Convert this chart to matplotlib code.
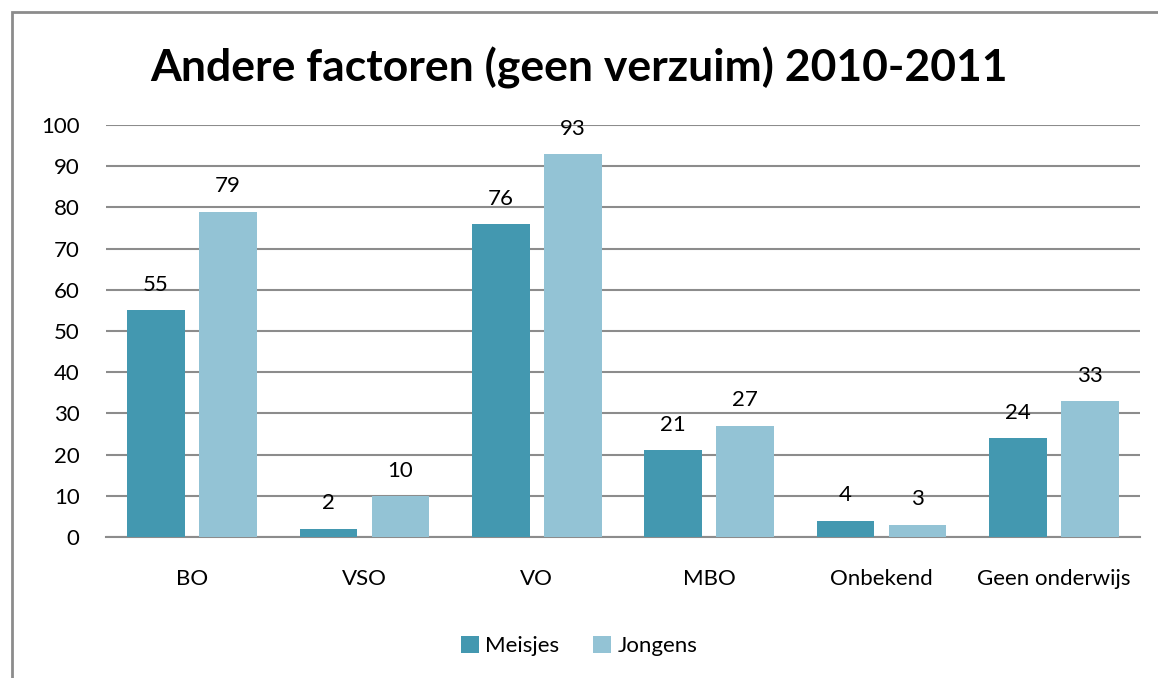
import numpy as np
import matplotlib.pyplot as plt
from matplotlib.patches import Rectangle

categories = ['BO', 'VSO', 'VO', 'MBO', 'Onbekend', 'Geen onderwijs']
meisjes = [55, 2, 76, 21, 4, 24]
jongens = [79, 10, 93, 27, 3, 33]

plt.rcParams['font.family'] = ['Lato', 'DejaVu Sans']

fig = plt.figure(figsize=(11.58, 6.78), dpi=100)
ax = fig.add_axes([106 / 1158, 1 - 537 / 678, (1140 - 106) / 1158, (537 - 125) / 678])

x = np.arange(len(categories))
w = 0.336
off = 0.209
b1 = ax.bar(x - off, meisjes, w, color='#4398B0', label='Meisjes', zorder=3)
b2 = ax.bar(x + off, jongens, w, color='#93C3D5', label='Jongens', zorder=3)
for bars in (b1, b2):
    ax.bar_label(bars, padding=11, fontsize=16, color='black')

ax.set_xlim(-0.5, len(categories) - 0.5)
ax.set_ylim(0, 100)
ax.set_yticks(range(0, 101, 10))
ax.set_xticks(x)
ax.set_xticklabels(categories)
ax.tick_params(axis='both', length=0, labelsize=16)
ax.tick_params(axis='x', pad=23)
ax.tick_params(axis='y', pad=19)
ax.grid(axis='y', color='#8c8c8c', linewidth=1.5, zorder=0)
for s in ['top', 'right', 'left']:
    ax.spines[s].set_visible(False)
ax.spines['bottom'].set_color('#8c8c8c')
ax.spines['bottom'].set_linewidth(1.5)

fig.text(0.5, 1 - 68 / 678, 'Andere factoren (geen verzuim) 2010-2011',
         ha='center', va='center', fontsize=32, fontweight='bold')

fig.legend(loc='center', bbox_to_anchor=(0.5, 1 - 646 / 678), ncol=2, frameon=False,
           fontsize=16, handlelength=0.8, handleheight=0.8, handletextpad=0.3,
           columnspacing=1.5)

# outer chart border (cut off at right and bottom)
fig.patches.append(Rectangle((12 / 1158, -0.1), 1.2, 1 - 12 / 678 + 0.1,
                             transform=fig.transFigure, fill=False,
                             edgecolor='#8c8c8c', linewidth=2))

fig.savefig('out.png', dpi=100)
